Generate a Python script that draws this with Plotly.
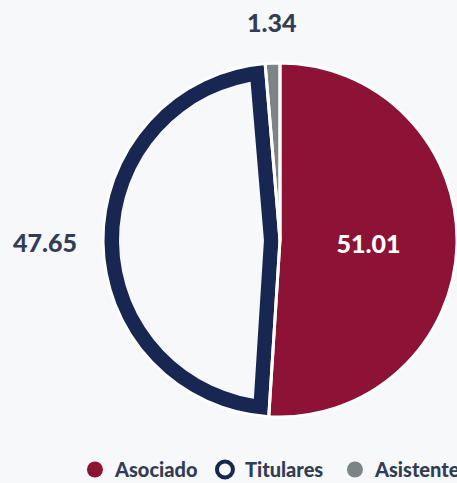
import math
import plotly.graph_objects as go

# data
categories = ['Asociado', 'Titulares', 'Asistente']
values = [51.01, 47.65, 1.34]
colors = ['#8c1236', '#172752', '#7d8485']

BG = '#f7f8fa'
TXT = '#323d55'
W, H = 457, 483
CX, CY, R = 280, 240, 177     # pie centre / radius in px (from top-left)
BORDER = 16                   # thickness of the Titulares outline
GAP = 24                      # distance of outside labels from the rim


def dom(cx, cy, r):
    return dict(x=[(cx - r) / W, (cx + r) / W],
                y=[(H - cy - r) / H, (H - cy + r) / H])


# slice angles (clockwise from 12 o'clock)
total = sum(values)
starts, acc = [], 0
for v in values:
    starts.append(acc / total * 2 * math.pi)
    acc += v
ends = starts[1:] + [2 * math.pi]

# Titulares hollow: same slice, inset by BORDER
half = (ends[1] - starts[1]) / 2
mid = (starts[1] + ends[1]) / 2
shift = BORDER / math.sin(half)
sx = CX + shift * math.sin(mid)
sy = CY - shift * math.cos(mid)

clear = 'rgba(0,0,0,0)'
common = dict(labels=categories, values=values, sort=False,
              direction='clockwise', rotation=0, showlegend=False,
              hoverinfo='skip')

fig = go.Figure()

# full slices
fig.add_trace(go.Pie(**common, domain=dom(CX, CY, R), textinfo='none',
                     marker=dict(colors=colors, line=dict(width=0))))
# hollow of Titulares
fig.add_trace(go.Pie(**common, domain=dom(sx, sy, R), textinfo='none',
                     marker=dict(colors=[clear, BG, clear], line=dict(width=0))))
# outer ring of Titulares
fig.add_trace(go.Pie(**common, domain=dom(CX, CY, R), textinfo='none',
                     hole=(R - BORDER) / R,
                     marker=dict(colors=[clear, colors[1], clear], line=dict(width=0))))
# white separators + inside label
fig.add_trace(go.Pie(**common, domain=dom(CX, CY, R),
                     texttemplate=['%{value:.2f}', '', ''],
                     textposition='inside',
                     insidetextorientation='horizontal',
                     insidetextfont=dict(color='white', size=25, family='Lato', weight=900),
                     marker=dict(colors=[clear] * 3, line=dict(color='white', width=3))))

# outside labels for the two other slices
for i in (1, 2):
    m = (starts[i] + ends[i]) / 2
    dx, dy = math.sin(m), -math.cos(m)
    px_, py_ = CX + (R + GAP) * dx, CY + (R + GAP) * dy
    if abs(dx) > abs(dy):
        xa, ya = ('right' if dx < 0 else 'left'), 'middle'
    else:
        xa, ya = 'center', ('bottom' if dy < 0 else 'top')
    fig.add_annotation(x=px_ / W, y=1 - py_ / H, xref='paper', yref='paper',
                       text=f'{values[i]:.2f}', showarrow=False,
                       xanchor=xa, yanchor=ya,
                       font=dict(color=TXT, size=25, family='Lato', weight=900))

# legend entries
for name, c in zip(categories, colors):
    if name == 'Titulares':
        mk = dict(size=16, color=BG, line=dict(color=c, width=4))
    else:
        mk = dict(size=16, color=c, line=dict(width=0))
    fig.add_trace(go.Scatter(x=[None], y=[None], mode='markers', name=name,
                             marker=mk, hoverinfo='skip'))

fig.update_layout(
    width=W, height=H,
    paper_bgcolor=BG, plot_bgcolor=BG,
    margin=dict(l=0, r=0, t=0, b=0, autoexpand=False),
    xaxis=dict(visible=False), yaxis=dict(visible=False),
    legend=dict(orientation='h', x=0.164, xanchor='left', y=0.028, yanchor='middle',
                entrywidth=85, entrywidthmode='pixels',
                font=dict(family='Lato', size=20, color=TXT, weight=900),
                bgcolor='rgba(0,0,0,0)', itemclick=False),
)

fig.write_html("out.html", config={'displayModeBar': False},
               post_script="document.body.style.margin='0';")
